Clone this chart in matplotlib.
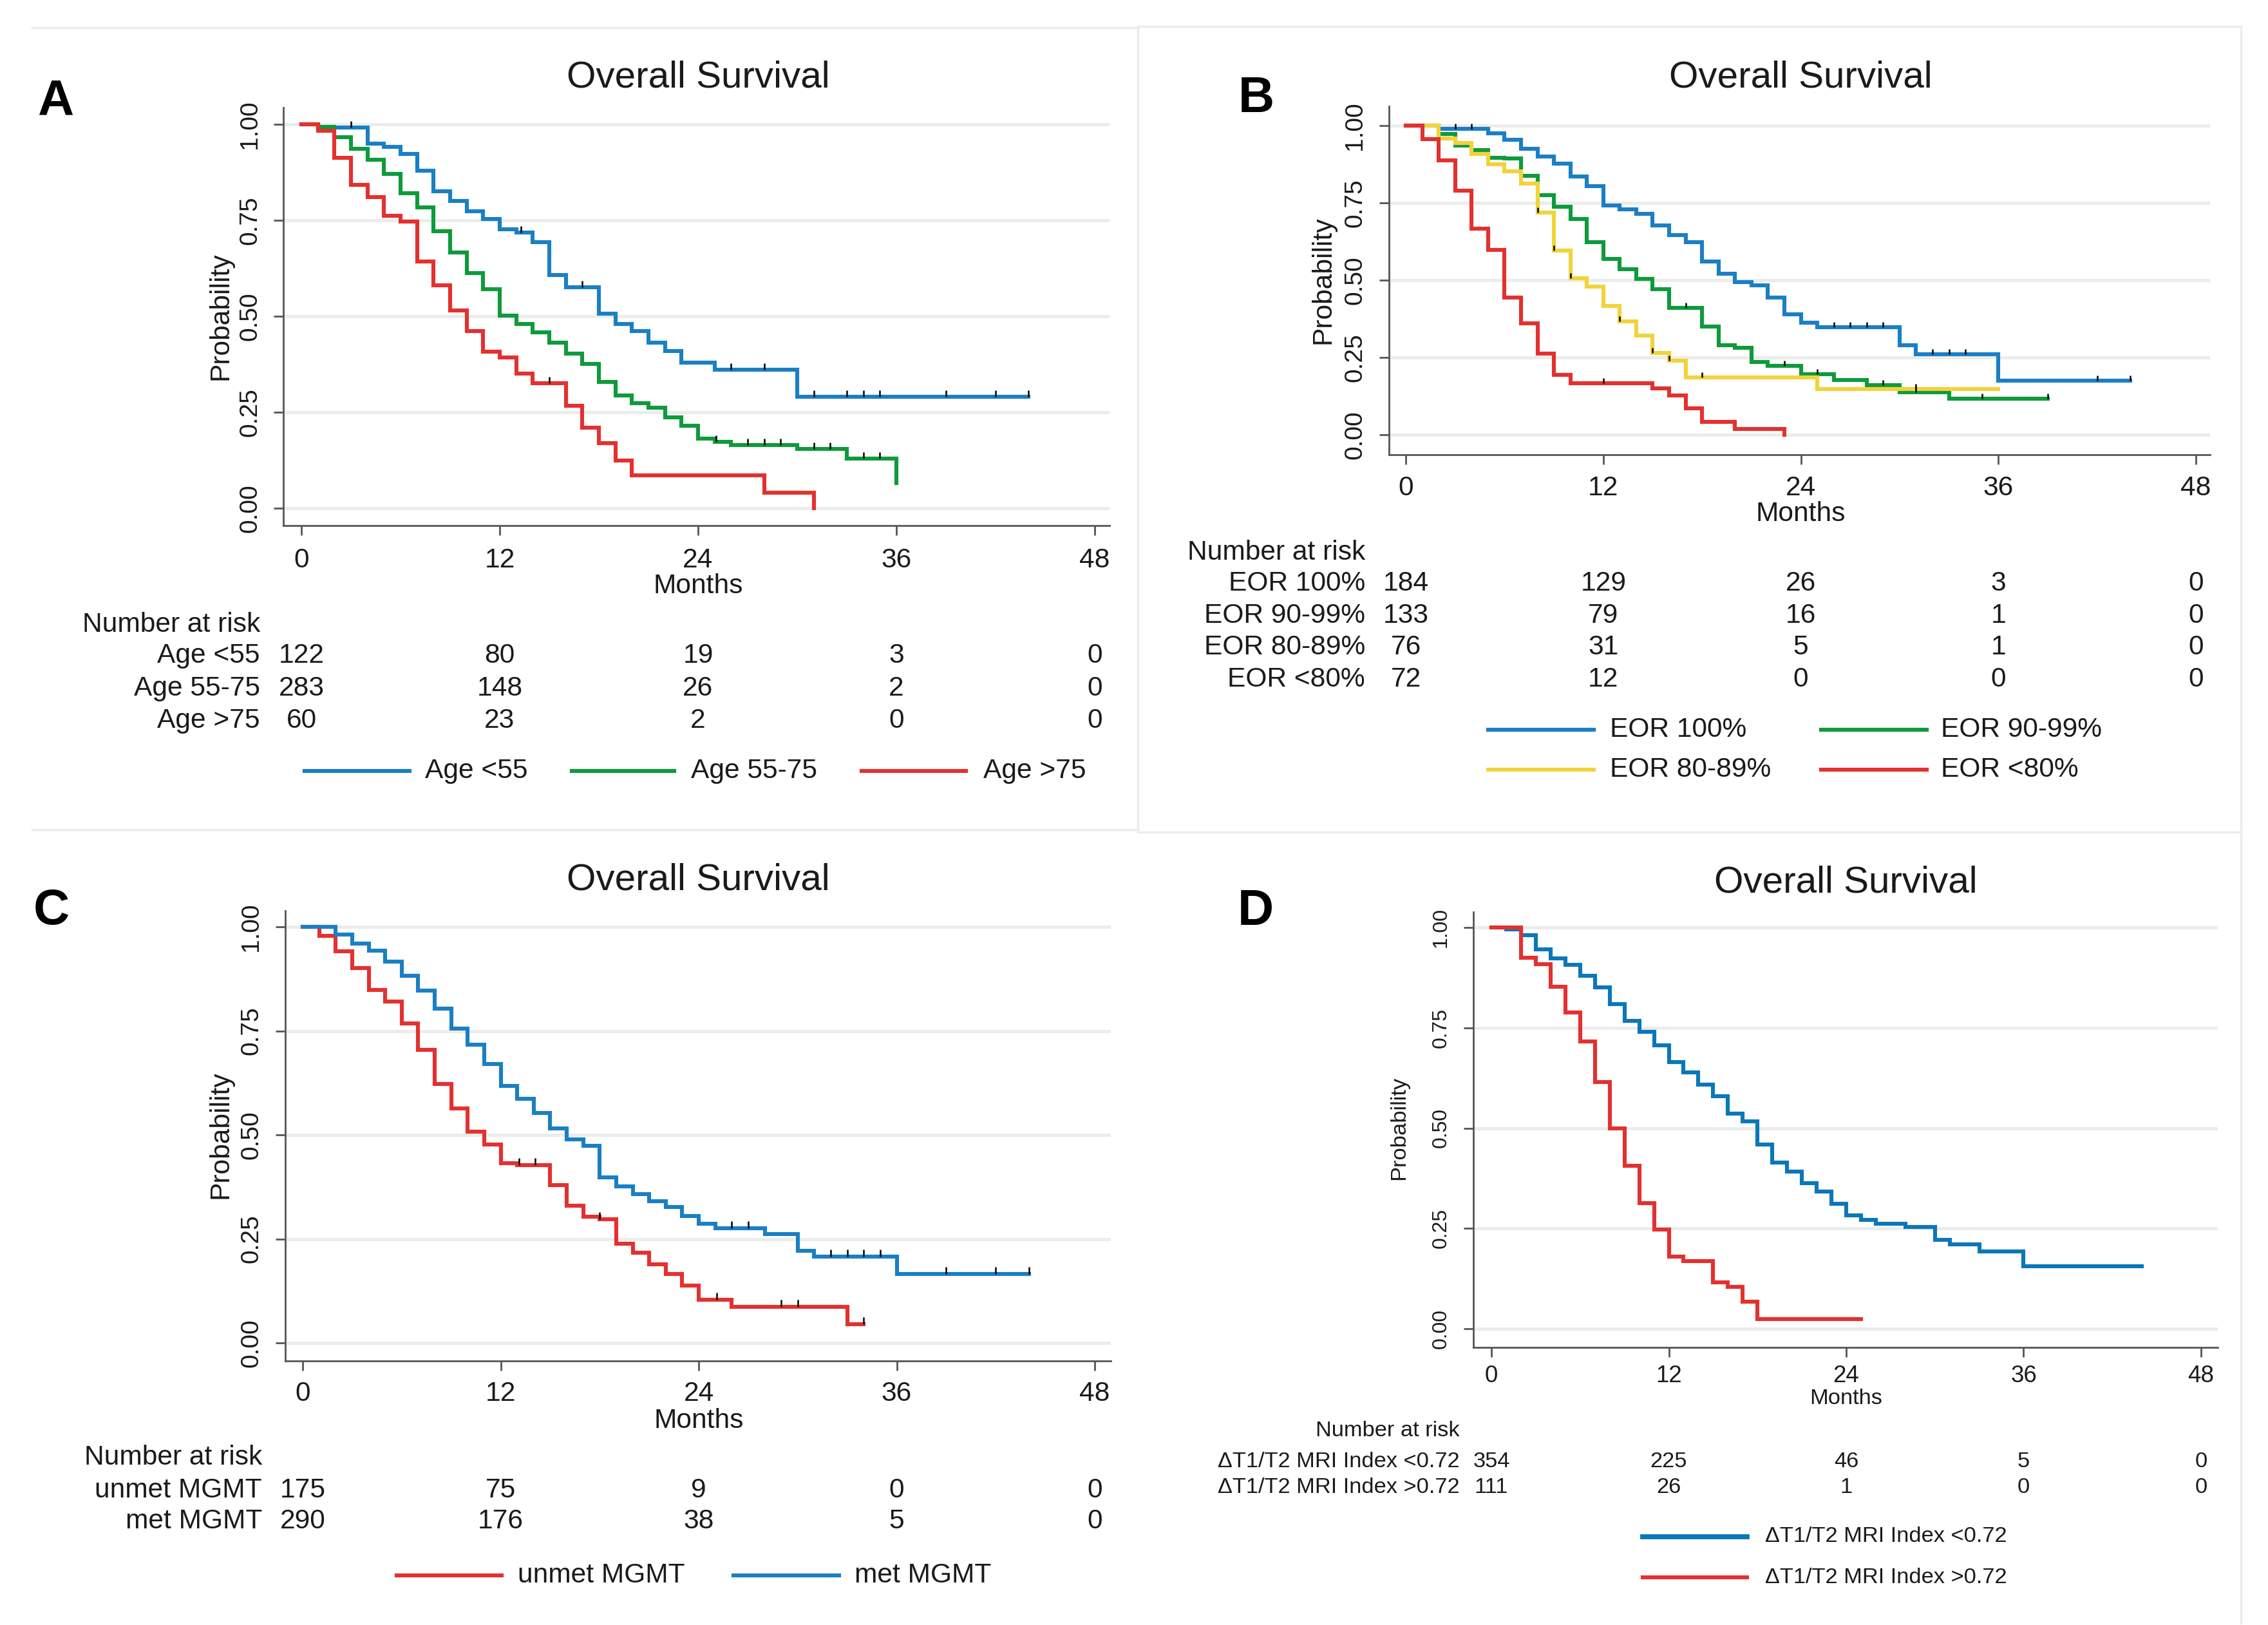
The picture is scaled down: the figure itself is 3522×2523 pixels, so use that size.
import numpy as np
import matplotlib
matplotlib.use("Agg")
import matplotlib.pyplot as plt
from matplotlib.lines import Line2D
from matplotlib.transforms import blended_transform_factory as btf

plt.rcParams['font.family'] = ['Liberation Sans', 'DejaVu Sans']

# ---------------- data ----------------
months_ticks = [0, 12, 24, 36, 48]
prob_ticks = [0.0, 0.25, 0.5, 0.75, 1.0]
prob_labels = ["0.00", "0.25", "0.50", "0.75", "1.00"]

# Panel A : age
A_blue_t = [0, 1, 4, 5, 6, 7, 8, 9, 10, 11, 12, 13, 14, 15, 16, 18, 19, 20, 21, 22, 23, 25, 30, 44]
A_blue_s = [1, 0.992, 0.95, 0.942, 0.922, 0.88, 0.826, 0.80, 0.773, 0.753, 0.726, 0.718, 0.693, 0.607,
            0.575, 0.507, 0.48, 0.462, 0.432, 0.41, 0.38, 0.36, 0.29, 0.29]
A_blue_c = [3, 13.3, 17, 26, 28, 31, 33, 34, 35, 39, 42, 44]
A_green_t = [0, 1, 2, 3, 4, 5, 6, 7, 8, 9, 10, 11, 12, 13, 14, 15, 16, 17, 18, 19, 20, 21, 22, 23, 24,
             25, 26, 30, 33, 36]
A_green_s = [1, 0.993, 0.967, 0.937, 0.907, 0.871, 0.821, 0.783, 0.721, 0.666, 0.613, 0.57, 0.502, 0.48,
             0.458, 0.432, 0.402, 0.376, 0.329, 0.294, 0.274, 0.261, 0.237, 0.214, 0.182, 0.173, 0.164,
             0.154, 0.129, 0.066]
A_green_c = [25.1, 27, 28, 29, 31, 32, 34, 35]
A_red_t = [0, 1, 2, 3, 4, 5, 6, 7, 8, 9, 10, 11, 12, 13, 14, 16, 17, 18, 19, 20, 28, 31]
A_red_s = [1, 0.983, 0.912, 0.843, 0.811, 0.761, 0.746, 0.643, 0.58, 0.515, 0.462, 0.407, 0.392, 0.35,
           0.326, 0.266, 0.209, 0.169, 0.125, 0.085, 0.04, 0.0]
A_red_c = [15]
A_groups = ["Age <55", "Age 55-75", "Age >75"]
A_risk = [[122, 80, 19, 3, 0], [283, 148, 26, 2, 0], [60, 23, 2, 0, 0]]

# Panel B : extent of resection
B_blue_t = [0, 2, 5, 6, 7, 8, 9, 10, 11, 12, 13, 14, 15, 16, 17, 18, 19, 20, 21, 22, 23, 24, 25,
            30, 31, 36, 44]
B_blue_s = [1, 0.99, 0.975, 0.954, 0.926, 0.901, 0.877, 0.836, 0.805, 0.742, 0.73, 0.714, 0.678,
            0.645, 0.622, 0.561, 0.521, 0.494, 0.483, 0.444, 0.39, 0.363, 0.347, 0.29, 0.26, 0.174, 0.174]
B_blue_c = [3, 4, 26, 27, 28, 29, 32, 33, 34, 42, 44]
B_green_t = [0, 2, 3, 4, 5, 6, 7, 8, 9, 10, 11, 12, 13, 14, 15, 16, 18, 19, 20, 21, 22, 24, 26, 28, 30,
             33, 39]
B_green_s = [1, 0.973, 0.935, 0.921, 0.896, 0.893, 0.838, 0.775, 0.737, 0.698, 0.623, 0.569, 0.535,
             0.504, 0.47, 0.411, 0.351, 0.29, 0.282, 0.235, 0.222, 0.195, 0.178, 0.161, 0.137, 0.117,
             0.117]
B_green_c = [17, 23, 25, 29, 31, 35, 39]
B_yellow_t = [0, 2, 3, 4, 5, 6, 7, 8, 9, 10, 11, 12, 13, 14, 15, 16, 17, 25, 36]
B_yellow_s = [1, 0.958, 0.944, 0.908, 0.875, 0.852, 0.813, 0.719, 0.596, 0.506, 0.479, 0.417, 0.367,
              0.32, 0.264, 0.239, 0.185, 0.147, 0.147]
B_yellow_c = [8, 9, 10, 13, 15, 16, 18, 31]
B_red_t = [0, 1, 2, 3, 4, 5, 6, 7, 8, 9, 10, 15, 16, 17, 18, 20, 23]
B_red_s = [1, 0.956, 0.887, 0.79, 0.667, 0.598, 0.444, 0.361, 0.263, 0.193, 0.166, 0.151, 0.127, 0.085,
           0.042, 0.019, 0.0]
B_red_c = [12]
B_groups = ["EOR 100%", "EOR 90-99%", "EOR 80-89%", "EOR <80%"]
B_risk = [[184, 129, 26, 3, 0], [133, 79, 16, 1, 0], [76, 31, 5, 1, 0], [72, 12, 0, 0, 0]]

# Panel C : MGMT
C_red_t = [0, 1, 2, 3, 4, 5, 6, 7, 8, 9, 10, 11, 12, 13, 15, 16, 17, 18, 19, 20, 21, 22, 23, 24, 26, 33, 34]
C_red_s = [1, 0.979, 0.941, 0.901, 0.848, 0.821, 0.768, 0.705, 0.622, 0.563, 0.508, 0.477, 0.432, 0.428,
           0.38, 0.329, 0.304, 0.297, 0.238, 0.217, 0.189, 0.165, 0.137, 0.104, 0.087, 0.045, 0.045]
C_red_c = [13.1, 14.1, 18, 25.1, 29, 30, 34]
C_blue_t = [0, 2, 3, 4, 5, 6, 7, 8, 9, 10, 11, 12, 13, 14, 15, 16, 17, 18, 19, 20, 21, 22, 23, 24, 25,
            28, 30, 31, 36, 44]
C_blue_s = [1, 0.981, 0.96, 0.942, 0.917, 0.882, 0.846, 0.804, 0.755, 0.716, 0.671, 0.617, 0.586, 0.553,
            0.515, 0.489, 0.473, 0.398, 0.376, 0.357, 0.34, 0.326, 0.305, 0.286, 0.276, 0.262, 0.222,
            0.207, 0.166, 0.166]
C_blue_c = [26, 27, 32, 33, 34, 35, 39, 42, 44]
C_groups = ["unmet MGMT", "met MGMT"]
C_risk = [[175, 75, 9, 0, 0], [290, 176, 38, 5, 0]]

# Panel D : delta T1/T2 MRI index
D_blue_t = [0, 1, 2, 3, 4, 5, 6, 7, 8, 9, 10, 11, 12, 13, 14, 15, 16, 17, 18, 19, 20, 21, 22, 23, 24,
            25, 26, 28, 30, 31, 33, 36, 44]
D_blue_s = [1, 0.995, 0.98, 0.946, 0.923, 0.907, 0.88, 0.851, 0.809, 0.768, 0.74, 0.707, 0.664, 0.639,
            0.608, 0.579, 0.536, 0.517, 0.459, 0.414, 0.391, 0.363, 0.342, 0.312, 0.283, 0.272, 0.261,
            0.254, 0.222, 0.211, 0.193, 0.155, 0.155]
D_red_t = [0, 2, 3, 4, 5, 6, 7, 8, 9, 10, 11, 12, 13, 15, 16, 17, 18, 25]
D_red_s = [1, 0.924, 0.909, 0.853, 0.788, 0.716, 0.615, 0.5, 0.406, 0.313, 0.247, 0.18, 0.169, 0.115,
           0.104, 0.068, 0.024, 0.024]
D_groups = ["\u0394T1/T2 MRI Index <0.72", "\u0394T1/T2 MRI Index >0.72"]
D_risk = [[354, 225, 46, 5, 0], [111, 26, 1, 0, 0]]

# ---------------- style ----------------
BLUE = '#1a7fc3'
GREEN = '#0f9a3c'
RED = '#e3312f'
YELLOW = '#f1d33c'
DBLUE = '#0b77b8'
AX = '#555555'
TXT = '#1a1a1a'

W, H = 3522, 2523
DPI = 200
fig = plt.figure(figsize=(W / DPI, H / DPI), dpi=DPI)
fig.patch.set_facecolor('white')


def fxp(x):
    return x / W


def fyp(y):
    return 1 - y / H


# faint panel frame lines
for (x1, y1, x2, y2) in [(50, 43, 1767, 43), (1767, 41, 3480, 41), (50, 1288, 1767, 1288),
                         (1767, 1292, 3480, 1292), (1767, 41, 1767, 1290),
                         (3480, 41, 3480, 2520)]:
    fig.add_artist(Line2D([fxp(x1), fxp(x2)], [fyp(y1), fyp(y2)], transform=fig.transFigure,
                          color='#ececec', lw=1.2))


def make_panel(g, fs, fs_ytick, fs_xtick, fs_title=21):
    left, right, top, bottom = g['box']
    x0, x48, y1, y0 = g['cal']
    ppm = (x48 - x0) / 48.0
    ppu = (y0 - y1)
    ax = fig.add_axes([fxp(left), fyp(bottom), (right - left) / W, (bottom - top) / H])
    ax.set_xlim(-(x0 - left) / ppm, 48 + (right - x48) / ppm)
    ax.set_ylim(-(bottom - y0) / ppu, 1 + (y1 - top) / ppu)
    for s in ['top', 'right']:
        ax.spines[s].set_visible(False)
    for s in ['left', 'bottom']:
        ax.spines[s].set_color(AX)
        ax.spines[s].set_linewidth(1.0)
    ax.set_xticks(months_ticks)
    ax.set_yticks(prob_ticks)
    ax.tick_params(direction='out', length=5.5, width=1.0, color=AX,
                   labelleft=False, labelbottom=False)
    ax.yaxis.grid(True, color='#ececec', lw=1.8)
    ax.set_axisbelow(True)
    ax.patch.set_alpha(0)

    tx = btf(ax.transData, fig.transFigure)
    ty = btf(fig.transFigure, ax.transData)
    for v, lab in zip(prob_ticks, prob_labels):
        fig.text(fxp(g['ytick_x']), v, lab, transform=ty, rotation=90, ha='center', va='center',
                 fontsize=fs_ytick, color=TXT)
    for m in months_ticks:
        fig.text(m, fyp(g['xtick_y']), str(m), transform=tx, ha='center', va='center',
                 fontsize=fs_xtick, color=TXT)
    fig.text(24, fyp(g['months_y']), "Months", transform=tx, ha='center', va='center',
             fontsize=fs, color=TXT)
    fig.text(fxp(g['prob_x']), 0.5, "Probability", transform=ty, rotation=90, ha='center',
             va='center', fontsize=fs, color=TXT)
    fig.text(fxp(g['title'][0]), fyp(g['title'][1]), "Overall Survival", ha='center', va='center',
             fontsize=fs_title, color=TXT)
    fig.text(fxp(g['letter'][0]), fyp(g['letter'][1]), g['name'], ha='center', va='center',
             fontsize=28, fontweight='bold', color='black')
    # number at risk
    fig.text(fxp(g['risk_right']), fyp(g['nar_y']), "Number at risk", ha='right', va='center',
             fontsize=fs, color=TXT)
    for lab, row, yy in zip(g['groups'], g['risk'], g['rows']):
        fig.text(fxp(g['risk_right']), fyp(yy), lab, ha='right', va='center', fontsize=fs, color=TXT)
        for m, n in zip(months_ticks, row):
            fig.text(m, fyp(yy), str(n), transform=tx, ha='center', va='center', fontsize=fs,
                     color=TXT)
    return ax


def km(ax, t, s, color, cens=None, lw=2.2, tick_h=0.017):
    t = np.asarray(t, float)
    s = np.asarray(s, float)
    ax.step(t, s, where='post', color=color, lw=lw, solid_joinstyle='miter', zorder=3)
    if cens:
        c = np.asarray(cens, float)
        idx = np.searchsorted(t, c, side='right') - 1
        cy = s[idx]
        ax.vlines(c, cy, cy + tick_h, color='black', lw=0.9, zorder=4)


def legend_item(x1, x2, xt, y, color, label, fs, lw=2.2):
    fig.add_artist(Line2D([fxp(x1), fxp(x2)], [fyp(y), fyp(y)], transform=fig.transFigure,
                          color=color, lw=lw))
    fig.text(fxp(xt), fyp(y), label, ha='left', va='center', fontsize=fs, color=TXT)


FS = 15.3

# Panel A
gA = dict(name='A', box=(440, 1723, 167, 816), cal=(468, 1700, 193, 789), ytick_x=388, prob_x=342,
          xtick_y=870, months_y=910, title=(1084, 121), letter=(86, 158), risk_right=404,
          nar_y=970, rows=[1018, 1069, 1119], groups=A_groups, risk=A_risk)
axA = make_panel(gA, FS, 14, 15.3)
km(axA, A_blue_t, A_blue_s, BLUE, A_blue_c)
km(axA, A_green_t, A_green_s, GREEN, A_green_c)
km(axA, A_red_t, A_red_s, RED, A_red_c)
legend_item(473, 636, 660, 1197, BLUE, A_groups[0], FS)
legend_item(888, 1047, 1073, 1197, GREEN, A_groups[1], FS)
legend_item(1338, 1500, 1527, 1197, RED, A_groups[2], FS)

# Panel B
gB = dict(name='B', box=(2157, 3432, 165, 706), cal=(2183, 3410, 195, 675), ytick_x=2104, prob_x=2054,
          xtick_y=758, months_y=798, title=(2796, 121), letter=(1951, 154), risk_right=2120,
          nar_y=858, rows=[906, 956, 1005, 1055], groups=B_groups, risk=B_risk)
axB = make_panel(gB, FS, 14, 15.3)
km(axB, B_blue_t, B_blue_s, BLUE, B_blue_c)
km(axB, B_green_t, B_green_s, GREEN, B_green_c)
km(axB, B_yellow_t, B_yellow_s, YELLOW, B_yellow_c)
km(axB, B_red_t, B_red_s, RED, B_red_c)
legend_item(2311, 2475, 2500, 1133, BLUE, B_groups[0], FS)
legend_item(2828, 2992, 3014, 1133, GREEN, B_groups[1], FS)
legend_item(2311, 2475, 2500, 1195, YELLOW, B_groups[2], FS)
legend_item(2828, 2992, 3014, 1195, RED, B_groups[3], FS)

# Panel C
gC = dict(name='C', box=(443, 1725, 1414, 2113), cal=(470, 1700, 1439, 2085), ytick_x=390, prob_x=342,
          xtick_y=2164, months_y=2206, title=(1084, 1367), letter=(80, 1414), risk_right=407,
          nar_y=2263, rows=[2314, 2362], groups=C_groups, risk=C_risk)
axC = make_panel(gC, FS, 14, 15.3)
km(axC, C_red_t, C_red_s, RED, C_red_c)
km(axC, C_blue_t, C_blue_s, BLUE, C_blue_c)
legend_item(616, 779, 804, 2446, RED, C_groups[0], FS)
legend_item(1139, 1303, 1327, 2446, BLUE, C_groups[1], FS)

# Panel D
FSD = 12.4
gD = dict(name='D', box=(2288, 3444, 1416, 2092), cal=(2316, 3418, 1440, 2063), ytick_x=2238,
          prob_x=2173, xtick_y=2137, months_y=2172, title=(2866, 1371), letter=(1950, 1416),
          risk_right=2267, nar_y=2221, rows=[2270, 2310], groups=D_groups, risk=D_risk)
axD = make_panel(gD, FSD, 11.5, 13.2)
km(axD, D_blue_t, D_blue_s, DBLUE)
km(axD, D_red_t, D_red_s, RED)
legend_item(2551, 2713, 2741, 2386, DBLUE, D_groups[0], FSD, lw=2.8)
legend_item(2551, 2713, 2741, 2449, RED, D_groups[1], FSD, lw=2.2)

fig.savefig("out.png", dpi=DPI, facecolor='white')
